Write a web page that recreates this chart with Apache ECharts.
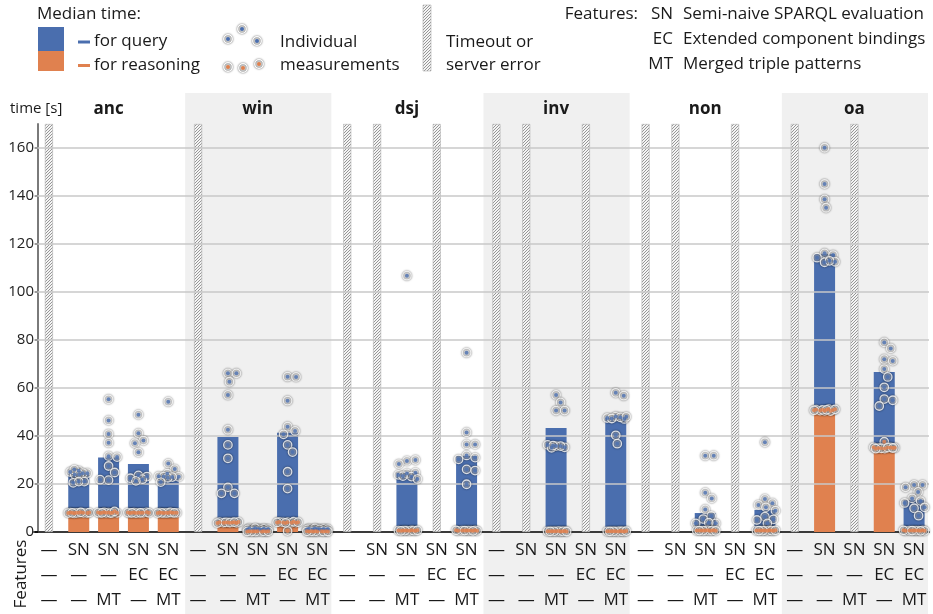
<!DOCTYPE html>
<html>
<head>
<meta charset="utf-8">
<script src="https://cdn.jsdelivr.net/npm/echarts@6/dist/echarts.min.js"></script>
<style>
  html, body { margin: 0; padding: 0; background: #fff; }
  #chart { width: 933px; height: 614px; }
</style>
</head>
<body>
<div id="chart"></div>
<script>
// benchmark groups and the five feature configurations in each
const groups = ['anc', 'win', 'dsj', 'inv', 'non', 'oa'];
const featSN = ['—', 'SN', 'SN', 'SN', 'SN'];
const featEC = ['—', '—', '—', 'EC', 'EC'];
const featMT = ['—', '—', 'MT', '—', 'MT'];
const yTicks = [0, 20, 40, 60, 80, 100, 120, 140, 160];
const yMax = 170;

// median times per slot (null = timeout or server error)
const reasoningMedian = [
  null, 7.5, 7.5, 7.5, 7.5,
  null, 3.3, 0.2, 3.3, 0.2,
  null, null, 0.5, null, 0.5,
  null, null, 0.3, null, 0.3,
  null, null, 0.5, null, 0.5,
  null, 50.0, null, 34.5, 0.6
];
const queryMedian = [
  null, 16.5, 23.5, 20.8, 15.3,
  null, 36.3, 0.9, 38.1, 0.8,
  null, null, 24.2, null, 31.2,
  null, null, 43.0, null, 47.2,
  null, null, 7.4, null, 8.7,
  null, 65.8, null, 32.2, 12.7
];

// individual measurements
const queryPoints = [
  null,
  [25.5, 24.5, 25.0, 24.0, 24.5, 26.0, 24.0, 21.0, 20.5, 21.0],
  [55.3, 46.5, 40.8, 37.2, 31.6, 31.2, 27.5, 24.8, 21.6, 21.8],
  [48.9, 41.1, 38.1, 37.0, 33.2, 23.6, 23.1, 22.4, 22.0, 21.3],
  [54.3, 28.5, 26.2, 24.3, 23.2, 23.0, 22.9, 23.1, 22.6, 20.8],
  null,
  [66.1, 66.1, 62.6, 57.1, 42.6, 36.3, 30.7, 18.6, 16.1, 16.1],
  [1.3, 1.0, 1.5, 1.1, 0.9, 1.4, 1.0, 1.2, 1.1, 1.6],
  [64.7, 64.6, 54.7, 43.9, 42.1, 40.7, 36.3, 33.3, 25.1, 18.1],
  [1.2, 1.0, 1.4, 1.1, 0.9, 1.3, 1.0, 1.2, 1.5, 1.1],
  null,
  null,
  [106.8, 29.6, 30.0, 28.3, 24.4, 24.7, 23.8, 23.1, 22.1, 23.3],
  null,
  [74.7, 41.5, 36.5, 36.5, 31.9, 31.0, 30.3, 26.1, 25.6, 19.9],
  null,
  null,
  [57.1, 54.0, 50.6, 50.6, 35.8, 35.3, 36.3, 35.1, 35.8, 36.0],
  null,
  [58.0, 56.8, 48.1, 47.1, 47.5, 47.8, 40.3, 36.8, 47.3, 48.0],
  null,
  null,
  [31.8, 31.8, 16.4, 14.0, 9.4, 6.7, 5.4, 3.6, 3.6, 3.9],
  null,
  [37.4, 13.8, 12.0, 11.3, 10.3, 8.9, 6.4, 5.3, 5.0, 3.6],
  null,
  [160.1, 145.0, 138.6, 135.1, 116.1, 115.4, 114.3, 112.4, 112.6, 113.0],
  null,
  [79.0, 76.5, 72.0, 71.3, 67.9, 64.6, 60.3, 55.4, 54.9, 52.5],
  [19.6, 19.6, 18.6, 16.7, 14.0, 12.9, 12.1, 9.9, 10.3, 6.8]
];
const reasoningPoints = [
  null,
  [8.0, 7.9, 8.1, 8.0, 7.8, 8.0, 8.1, 7.9, 8.0, 8.2],
  [8.1, 8.0, 7.9, 8.0, 8.2, 8.0, 7.9, 8.1, 8.0, 8.6],
  [8.0, 8.2, 7.9, 8.0, 8.1, 8.0, 7.9, 8.1, 8.0, 8.0],
  [7.9, 8.0, 8.1, 8.0, 7.9, 8.0, 8.2, 8.0, 7.9, 8.0],
  null,
  [4.0, 3.8, 4.1, 3.9, 4.0, 4.2, 3.7, 4.0, 3.9, 4.1],
  [0.3, 0.2, 0.3, 0.2, 0.3, 0.2, 0.3, 0.2, 0.3, 0.2],
  [4.1, 3.9, 4.2, 4.0, 3.9, 4.3, 4.0, 0.4, 4.1, 3.8],
  [0.2, 0.3, 0.2, 0.3, 0.2, 0.3, 0.2, 0.3, 0.2, 0.3],
  null,
  null,
  [0.6, 0.5, 0.6, 0.7, 0.6, 0.5, 0.6, 0.7, 0.6, 0.5],
  null,
  [0.6, 0.7, 0.5, 0.6, 0.6, 0.7, 0.5, 0.6, 0.6, 0.5],
  null,
  null,
  [0.3, 0.4, 0.3, 0.2, 0.3, 0.4, 0.3, 0.2, 0.3, 0.3],
  null,
  [0.3, 0.2, 0.3, 0.4, 0.3, 0.2, 0.3, 0.4, 0.3, 0.3],
  null,
  null,
  [0.6, 0.7, 0.6, 0.5, 0.6, 0.7, 0.6, 0.5, 0.6, 0.6],
  null,
  [0.6, 0.5, 0.6, 0.7, 0.6, 0.5, 0.6, 0.7, 0.6, 0.6],
  null,
  [50.5, 50.8, 51.0, 50.6, 51.2, 50.9, 50.4, 51.1, 50.7, 50.9],
  null,
  [37.6, 35.2, 35.0, 34.8, 35.3, 35.1, 34.9, 35.2, 34.7, 35.0],
  [0.6, 0.7, 0.5, 0.6, 0.6, 0.7, 0.5, 0.6, 0.6, 0.5]
];

const BLUE = '#4a6eae';
const ORANGE = '#e0814f';
const FONT = '"Open Sans", "Noto Sans", sans-serif';
const W = 933, H = 614;
const gridLeft = 34, gridRight = 4, gridTop = 124, gridBottom = 82;
const nSlots = groups.length * 5;
const slotPx = (W - gridLeft - gridRight) / nSlots;
const yPx = (H - gridTop - gridBottom) / yMax;

const slots = [];
groups.forEach(g => featSN.forEach((f, i) => slots.push(g + '-' + i)));
const failed = reasoningMedian.map(v => v === null);

// hatch pattern for failed runs (pixel diagonal, no antialiasing)
const hatch = document.createElement('canvas');
hatch.width = hatch.height = 3;
const hc = hatch.getContext('2d');
hc.fillStyle = '#f4f4f4';
hc.fillRect(0, 0, 3, 3);
hc.fillStyle = '#969696';
for (let i = 0; i < 3; i++) hc.fillRect(i, 2 - i, 1, 1);
const hatchFill = { image: hatch, repeat: 'repeat' };

// simple beeswarm: spread points sideways so they do not overlap (within bar width)
function swarm(values, slot) {
  const d = 8.5, half = 10.5, step = 0.5;
  const placed = [];
  return values.map(v => {
    const py = v * yPx;
    let best = 0, bestScore = -1;
    for (let k = 0; k <= 2 * half / step; k++) {
      const dx = (k % 2 ? 1 : -1) * Math.ceil(k / 2) * step;
      let minD = Infinity;
      placed.forEach(p => { minD = Math.min(minD, Math.hypot(p[0] - dx, p[1] - py)); });
      if (minD >= d) { best = dx; break; }
      if (minD > bestScore) { bestScore = minD; best = dx; }
    }
    placed.push([best, py]);
    return [slot + 0.5 + best / slotPx, v];
  });
}

let qPts = [], rPts = [];
queryPoints.forEach((arr, i) => { if (arr) qPts = qPts.concat(swarm(arr, i)); });
reasoningPoints.forEach((arr, i) => { if (arr) rPts = rPts.concat(swarm(arr, i)); });

const ringStyle = {
  color: 'rgba(255,255,255,0.4)',
  borderColor: '#ffffff',
  borderWidth: 1.3,
  shadowBlur: 2,
  shadowColor: 'rgba(0,0,0,0.7)'
};

function ringSeries(data) {
  return {
    type: 'scatter', xAxisIndex: 2, data: data, symbolSize: 8.5,
    itemStyle: ringStyle, z: 5, silent: true
  };
}
function dotSeries(data, color) {
  return {
    type: 'scatter', xAxisIndex: 2, data: data, symbolSize: 4,
    itemStyle: { color: color }, z: 6, silent: true
  };
}

const chart = echarts.init(document.getElementById('chart'), null, { renderer: 'canvas' });

const option = {
  animation: false,
  textStyle: { fontFamily: FONT },
  grid: { left: gridLeft, right: gridRight, top: gridTop, bottom: gridBottom },
  xAxis: [
    {
      type: 'category', data: slots,
      axisLine: { lineStyle: { color: '#3a3a3a', width: 2 } },
      axisTick: { show: false },
      axisLabel: {
        interval: 0, margin: 6, fontSize: 17, lineHeight: 25, color: '#1a1a1a',
        formatter: (v, i) => featSN[i % 5] + '\n' + featEC[i % 5] + '\n' + featMT[i % 5]
      }
    },
    { type: 'category', data: slots, show: false },
    { type: 'value', min: 0, max: nSlots, show: false }
  ],
  yAxis: {
    type: 'value', min: 0, max: yMax, interval: 20, offset: -4,
    axisLine: { show: true, lineStyle: { color: '#7a7a7a', width: 2 } },
    axisTick: { show: true, length: 3, lineStyle: { color: '#111', width: 2 }, customValues: yTicks },
    axisLabel: {
      fontSize: 15, color: '#222', margin: 4, customValues: yTicks,
      formatter: v => (v % 20 === 0 ? String(v) : '')
    },
    splitLine: { show: false }
  },
  series: [
    {
      // grid lines
      type: 'line', data: [], z: 1, silent: true,
      markLine: {
        silent: true, symbol: 'none', label: { show: false },
        lineStyle: { color: '#c8c8c8', width: 1.5, type: 'solid' },
        data: yTicks.filter(v => v > 0).map(v => ({ yAxis: v }))
      }
    },
    {
      name: 'timeout', type: 'bar', xAxisIndex: 1, barWidth: 8, z: 2,
      data: failed.map(f => (f ? yMax : '-')),
      itemStyle: { color: hatchFill, borderColor: '#b0b0b0', borderWidth: 0.6 }
    },
    {
      name: 'reasoning', type: 'bar', stack: 'm', barWidth: 21, z: 3,
      data: reasoningMedian.map(v => (v === null ? '-' : v)),
      itemStyle: { color: ORANGE }
    },
    {
      name: 'query', type: 'bar', stack: 'm', barWidth: 21, z: 3,
      data: queryMedian.map(v => (v === null ? '-' : v)),
      itemStyle: { color: BLUE }
    },
    ringSeries(qPts), dotSeries(qPts, BLUE),
    ringSeries(rPts), dotSeries(rPts, ORANGE)
  ]
};
chart.setOption(option);

// backgrounds, headers and legend
const px = v => chart.convertToPixel({ xAxisIndex: 2 }, v);
const txt = (text, x, y, opt) => Object.assign({
  type: 'text', z: 20, silent: true,
  style: Object.assign({ text: text, x: x, y: y, font: '17px ' + FONT, fill: '#1a1a1a', verticalAlign: 'middle' }, opt || {})
});
const elements = [];
groups.forEach((g, gi) => {
  const x0 = px(gi * 5), x1 = px(gi * 5 + 5);
  if (gi % 2 === 1) {
    elements.push({
      type: 'rect', z: -10, silent: true,
      shape: { x: x0 + 2, y: 93, width: x1 - x0 - 3, height: H - 93 },
      style: { fill: '#f0f0f0' }
    });
  }
  elements.push(txt(g, (x0 + x1) / 2, 109, { align: 'center', font: 'bold 17px ' + FONT }));
});
elements.push(txt('time [s]', 10, 109, { font: '15px ' + FONT }));
elements.push({
  type: 'text', z: 20, silent: true, x: 21, y: 574, rotation: Math.PI / 2,
  style: { text: 'Features', font: '17px ' + FONT, fill: '#1a1a1a', align: 'center', verticalAlign: 'middle' }
});

// legend: median time
elements.push(txt('Median time:', 37, 14));
elements.push({ type: 'rect', z: 20, shape: { x: 38, y: 27, width: 26, height: 24 }, style: { fill: BLUE } });
elements.push({ type: 'rect', z: 20, shape: { x: 38, y: 51, width: 26, height: 20 }, style: { fill: ORANGE } });
elements.push({ type: 'rect', z: 20, shape: { x: 78, y: 40.5, width: 12, height: 3 }, style: { fill: BLUE } });
elements.push({ type: 'rect', z: 20, shape: { x: 78, y: 64, width: 12, height: 3 }, style: { fill: ORANGE } });
elements.push(txt('for query', 94, 41));
elements.push(txt('for reasoning', 94, 65));

// legend: individual measurements
[[228, 39, BLUE], [242, 29, BLUE], [257, 41, BLUE], [228, 67, ORANGE], [243, 68, ORANGE], [259, 64, ORANGE]]
  .forEach(p => {
    elements.push({
      type: 'circle', z: 20, shape: { cx: p[0], cy: p[1], r: 4.3 },
      style: { fill: 'rgba(255,255,255,0.4)', stroke: '#fff', lineWidth: 1.3, shadowBlur: 2, shadowColor: 'rgba(0,0,0,0.7)' }
    });
    elements.push({ type: 'circle', z: 21, shape: { cx: p[0], cy: p[1], r: 2 }, style: { fill: p[2] } });
  });
elements.push(txt('Individual', 280, 42));
elements.push(txt('measurements', 280, 65));

// legend: timeout
elements.push({
  type: 'rect', z: 20, shape: { x: 423, y: 5, width: 8, height: 66 },
  style: { fill: hatchFill, stroke: '#b0b0b0', lineWidth: 0.6 }
});
elements.push(txt('Timeout or', 446, 42));
elements.push(txt('server error', 446, 65));

// legend: features
elements.push(txt('Features:', 638, 14, { align: 'right' }));
[['SN', 'Semi-naive SPARQL evaluation', 14], ['EC', 'Extended component bindings', 39], ['MT', 'Merged triple patterns', 64]]
  .forEach(f => {
    elements.push(txt(f[0], 673, f[2], { align: 'right' }));
    elements.push(txt(f[1], 683, f[2]));
  });

chart.setOption({ graphic: { elements: elements } });
</script>
</body>
</html>
